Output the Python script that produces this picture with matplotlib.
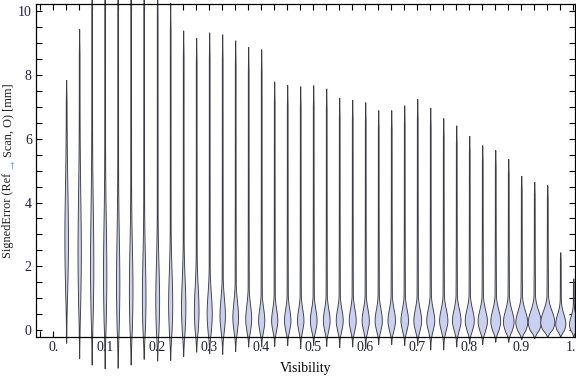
import numpy as np
import matplotlib
matplotlib.use("Agg")
import matplotlib.pyplot as plt
import matplotlib.transforms as mtransforms
from matplotlib.ticker import MultipleLocator, FixedLocator

# violin centres (visibility bins)
positions = [0.025, 0.05, 0.075, 0.1, 0.125, 0.15, 0.175, 0.2, 0.225, 0.25,
             0.275, 0.3, 0.325, 0.35, 0.375, 0.4, 0.425, 0.45, 0.475, 0.5,
             0.525, 0.55, 0.575, 0.6, 0.625, 0.65, 0.675, 0.7, 0.725, 0.75,
             0.775, 0.8, 0.825, 0.85, 0.875, 0.9, 0.925, 0.95, 0.975, 1.0]

# max / min signed error per bin [mm]
err_max = [7.85, 9.45, 11.0, 11.5, 12.0, 11.5, 11.0, 10.8, 10.27, 9.4,
           9.17, 9.34, 9.28, 9.09, 8.88, 8.81, 7.80, 7.69, 7.65, 7.68,
           7.58, 7.29, 7.22, 7.15, 6.90, 6.90, 7.05, 7.25, 6.98, 6.65,
           6.42, 6.09, 5.80, 5.65, 5.37, 4.84, 4.65, 4.55, 2.44, 1.62]
err_min = [-0.40, -0.89, -1.10, -1.22, -1.20, -1.10, -0.92, -0.96, -0.94, -0.82,
           -0.68, -0.73, -0.75, -0.66, -0.52, -0.52, -0.50, -0.47, -0.57, -0.47,
           -0.50, -0.54, -0.52, -0.57, -0.44, -0.44, -0.47, -0.47, -0.61, -0.61,
           -0.52, -0.42, -0.44, -0.37, -0.37, -0.29, -0.26, -0.21, -0.21, -0.21]

# most frequent error, spread of the main lobe, relative peak density
err_mode = [2.8, 2.4, 2.0, 1.7, 1.4, 1.2, 1.0, 0.9, 0.8, 0.7,
            0.6, 0.5, 0.45, 0.4, 0.35, 0.3, 0.3, 0.3, 0.3, 0.3,
            0.3, 0.3, 0.3, 0.3, 0.3, 0.3, 0.3, 0.3, 0.3, 0.3,
            0.3, 0.3, 0.28, 0.28, 0.26, 0.25, 0.25, 0.25, 0.2, 0.18]
err_spread = [1.3, 1.4, 1.4, 1.3, 1.2, 1.1, 1.0, 0.9, 0.8, 0.7,
              0.6, 0.5, 0.42, 0.38, 0.34, 0.3, 0.28, 0.28, 0.28, 0.28,
              0.28, 0.28, 0.28, 0.28, 0.28, 0.28, 0.28, 0.28, 0.28, 0.28,
              0.28, 0.28, 0.28, 0.28, 0.28, 0.28, 0.28, 0.28, 0.24, 0.2]
peak_density = [0.11, 0.1, 0.1, 0.1, 0.1, 0.11, 0.11, 0.12, 0.13, 0.14,
                0.15, 0.17, 0.18, 0.19, 0.2, 0.21, 0.21, 0.22, 0.22, 0.23,
                0.23, 0.24, 0.24, 0.25, 0.25, 0.26, 0.26, 0.27, 0.28, 0.29,
                0.3, 0.32, 0.33, 0.35, 0.38, 0.43, 0.47, 0.51, 0.36, 0.3]

slot = 0.025
fig = plt.figure(figsize=(5.76, 3.77), dpi=100)
ax = fig.add_axes([0.0625, 0.1069, 0.9352, 0.8825])

for x, top, bot, m, s, w in zip(positions, err_max, err_min, err_mode,
                                 err_spread, peak_density):
    y = np.linspace(bot, top, 800)
    lobe = np.exp(-0.5 * ((y - m) / np.where(y < m, s, 1.25 * s)) ** 2)
    tail = np.where(y > m, 0.13 * np.exp(-(y - m) / (0.3 * (top - m))), 0)
    hw = np.maximum(lobe, tail) * w * slot + 0.0007
    hw *= np.clip((top - y) / (0.08 * (top - bot)), 0, 1)
    hw *= np.clip((y - bot) / (0.5 * (m - bot)), 0, 1) ** 0.7
    ax.fill_betweenx(y, x - hw, x + hw, facecolor="#c9d0f2",
                     edgecolor="#3c3c44", linewidth=0.65, clip_on=False,
                     zorder=2)

ax.set_xlim(-0.033, 1.0027)
ax.set_ylim(-0.21, 10.23)

ax.xaxis.set_major_locator(FixedLocator([0, 0.1, 0.2, 0.3, 0.4, 0.5, 0.6, 0.7, 0.8, 0.9, 1.0]))
ax.set_xticklabels(["0.", "0.1", "0.2", "0.3", "0.4", "0.5", "0.6", "0.7", "0.8", "0.9", "1."])
ax.xaxis.set_minor_locator(MultipleLocator(0.025))
ax.yaxis.set_major_locator(MultipleLocator(2))
ax.yaxis.set_minor_locator(MultipleLocator(0.5))
ax.tick_params(which="both", direction="in", top=True, right=True,
               length=4, width=0.8, labelsize=10, pad=3)
for lab in ax.get_xticklabels() + ax.get_yticklabels():
    lab.set_family("Liberation Serif")
    lab.set_color("#202040")
# keep the last x label inside the figure
last = ax.get_xticklabels()[-1]
last.set_transform(last.get_transform() +
                   mtransforms.ScaledTranslation(-2 / 100, 0, fig.dpi_scale_trans))
for sp in ax.spines.values():
    sp.set_linewidth(0.9)
    sp.set_zorder(5)

ax.set_xlabel("Visibility", family="Liberation Serif", fontsize=10, labelpad=6)

# y label with coloured arrow, pieced together
fig.canvas.draw()
r = fig.canvas.get_renderer()
pieces = [("SignedError (Ref ", "#202020"), ("\u2192", "#2fa0e0"),
          ("Scan, O) [mm]", "#202020")]
texts = []
for s_, c in pieces:
    t = fig.text(0, 0, s_, rotation=90, rotation_mode="anchor", ha="left",
                 va="center", fontsize=8.8, color=c,
                 family=["Liberation Serif", "DejaVu Serif"])
    texts.append(t)
lengths = [t.get_window_extent(r).height for t in texts]
ypix = (377 - 170.5) - sum(lengths) / 2
for t, L in zip(texts, lengths):
    t.set_position((8.5 / 576, ypix / 377))
    ypix += L

fig.savefig("out.png", dpi=100)
